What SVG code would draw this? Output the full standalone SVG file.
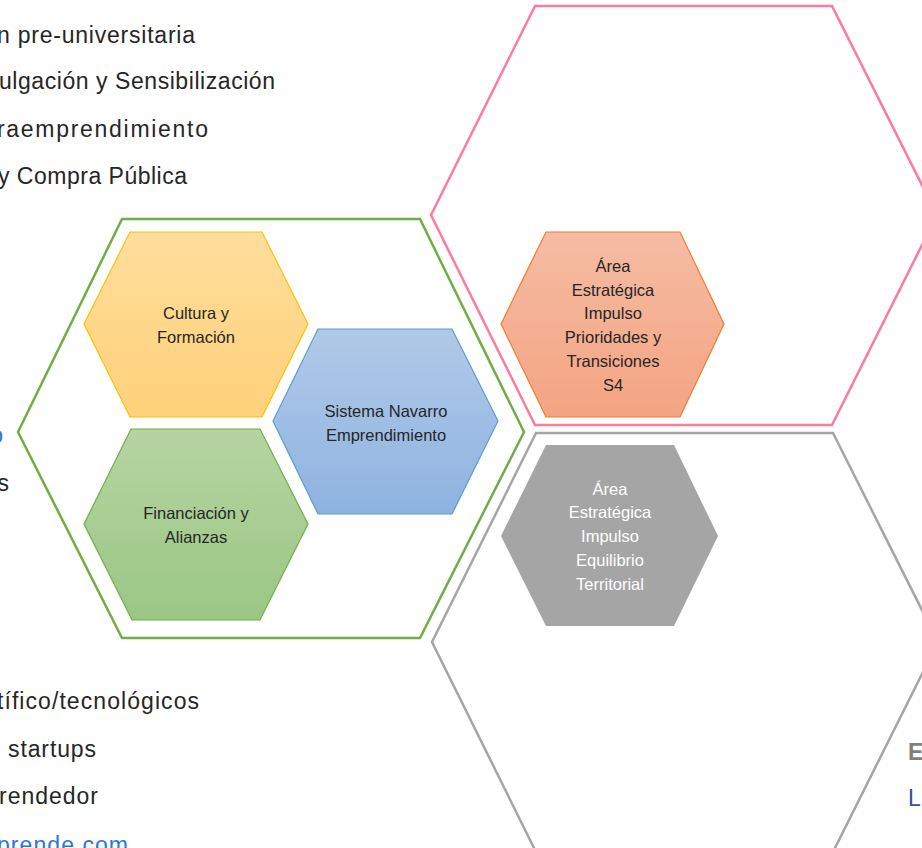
<svg xmlns="http://www.w3.org/2000/svg" width="922" height="848" viewBox="0 0 922 848">
<defs>
<linearGradient id="gY" x1="0" y1="0" x2="0" y2="1"><stop offset="0" stop-color="#FFDD9C"/><stop offset="1" stop-color="#FFD27A"/></linearGradient>
<linearGradient id="gB" x1="0" y1="0" x2="0" y2="1"><stop offset="0" stop-color="#B1C9E8"/><stop offset="1" stop-color="#8EB3E0"/></linearGradient>
<linearGradient id="gG" x1="0" y1="0" x2="0" y2="1"><stop offset="0" stop-color="#B6D4A2"/><stop offset="1" stop-color="#9AC784"/></linearGradient>
<linearGradient id="gO" x1="0" y1="0" x2="0" y2="1"><stop offset="0" stop-color="#F5BCA3"/><stop offset="1" stop-color="#F4A482"/></linearGradient>
</defs>
<style>
.bg{font-family:"Liberation Sans",Arial,sans-serif;font-size:23px;fill:#262626}
.lbl{font-family:"Liberation Sans",Arial,sans-serif;font-size:16.5px;fill:#262626;text-anchor:middle}
.wl{fill:#FFFFFF}
.link{fill:#2E75D6}
.gry{fill:#7F7F7F;font-weight:bold}
.blu{fill:#2F5597}
.big{fill:none;stroke-width:2.5}
</style>
<rect width="922" height="848" fill="#FFFFFF"/>
<g id="background-text">
<text class="bg" x="-3" y="43" textLength="198" lengthAdjust="spacing">n pre-universitaria</text>
<text class="bg" x="-1" y="89" textLength="276" lengthAdjust="spacing">ulgación y Sensibilización</text>
<text class="bg" x="-3" y="137" textLength="211" lengthAdjust="spacing">raemprendimiento</text>
<text class="bg" x="-2" y="184" textLength="189" lengthAdjust="spacing">y Compra Pública</text>
<text class="bg link" x="3" y="443" text-anchor="end">o</text>
<text class="bg" x="9" y="491" text-anchor="end">s</text>
<text class="bg" x="-3" y="709" textLength="202" lengthAdjust="spacing">tífico/tecnológicos</text>
<text class="bg" x="8" y="757" textLength="88" lengthAdjust="spacing">startups</text>
<text class="bg" x="-1" y="804" textLength="99" lengthAdjust="spacing">rendedor</text>
<text class="bg link" x="-3" y="853" textLength="131" lengthAdjust="spacing">prende.com</text>
<text class="bg gry" x="908" y="760">E</text>
<text class="bg blu" x="908" y="806">L</text>
</g>
<g id="hex-green-outer"><polygon class="big" stroke="#70AD47" points="18,432 122,219 420,219 524,432 420,638 122,638"/></g>
<g id="hex-pink-outer"><polygon class="big" stroke="#FF7A9E" points="431,215 535,6 832,6 937,215 832,425 535,425"/></g>
<g id="hex-gray-outer"><polygon class="big" stroke="#A5A5A5" points="432,642 536,433 833,433 938,642 833,852 536,852"/></g>
<g id="hex-cultura">
<polygon points="84,324 130,232 262,232 308,324 262,417 130,417" fill="url(#gY)" stroke="#FFC000" stroke-width="1.2"/>
<text class="lbl" x="196" y="319">Cultura y</text>
<text class="lbl" x="196" y="343">Formación</text>
</g>
<g id="hex-sistema">
<polygon points="273,421 318,329 452,329 498,421 452,514 318,514" fill="url(#gB)" stroke="#5B9BD5" stroke-width="1.2"/>
<text class="lbl" x="386" y="417">Sistema Navarro</text>
<text class="lbl" x="386" y="441">Emprendimiento</text>
</g>
<g id="hex-financiacion">
<polygon points="84,524 131,429 260,429 308,524 260,620 132,620" fill="url(#gG)" stroke="#70AD47" stroke-width="1.2"/>
<text class="lbl" x="196" y="519">Financiación y</text>
<text class="lbl" x="196" y="543">Alianzas</text>
</g>
<g id="hex-prioridades">
<polygon points="501,324 546,232 680,232 724,324 680,417 546,417" fill="url(#gO)" stroke="#ED7D31" stroke-width="1.2"/>
<text class="lbl" x="613" y="272">Área</text>
<text class="lbl" x="613" y="296">Estratégica</text>
<text class="lbl" x="613" y="319">Impulso</text>
<text class="lbl" x="613" y="343">Prioridades y</text>
<text class="lbl" x="613" y="367">Transiciones</text>
<text class="lbl" x="613" y="391">S4</text>
</g>
<g id="hex-equilibrio">
<polygon points="501,536 546,445 674,445 718,536 674,626 546,626" fill="#A5A5A5"/>
<text class="lbl wl" x="610" y="495">Área</text>
<text class="lbl wl" x="610" y="518">Estratégica</text>
<text class="lbl wl" x="610" y="542">Impulso</text>
<text class="lbl wl" x="610" y="566">Equilibrio</text>
<text class="lbl wl" x="610" y="590">Territorial</text>
</g>
<g id="connectors"/>
</svg>
